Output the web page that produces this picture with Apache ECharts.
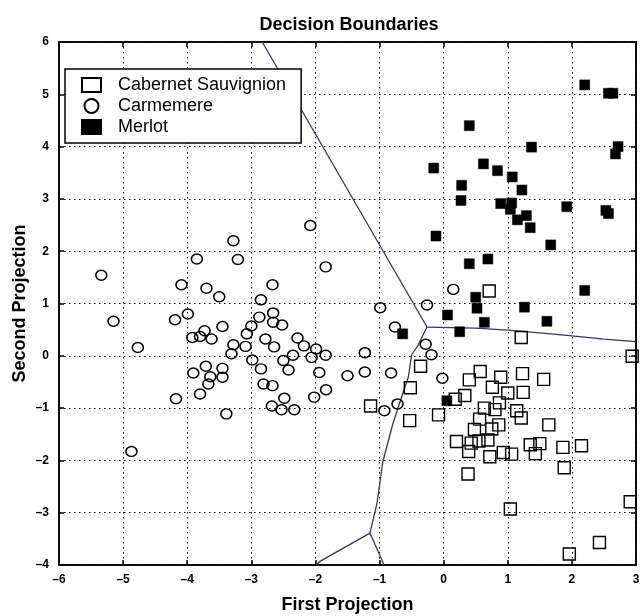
<!DOCTYPE html>
<html><head><meta charset="utf-8">
<script src="https://cdn.jsdelivr.net/npm/echarts@6/dist/echarts.min.js"></script>
<style>html,body{margin:0;padding:0;background:#fff}#c{width:641px;height:616px}</style>
</head><body><div id="c"></div>
<script>
const xRange = [-6, 3];
const yRange = [-4, 6];
const seriesNames = ['Cabernet Sauvignion', 'Carmemere', 'Merlot'];

const cabernet = [
[1.21,0.35],[2.94,-0.01],[-0.36,-0.20],[0.57,-0.30],[1.23,-0.34],[1.56,-0.45],[0.40,-0.46],[0.89,-0.41],
[0.76,-0.60],[-0.52,-0.61],[1.00,-0.71],[1.24,-0.70],[0.33,-0.76],[0.18,-0.83],[-0.08,-1.13],[-0.53,-1.24],
[0.635,-1.00],[0.80,-1.03],[0.87,-0.90],[1.14,-1.05],[1.21,-1.19],[0.56,-1.21],[0.75,-1.40],[0.86,-1.32],
[0.48,-1.41],[1.64,-1.32],[0.20,-1.64],[0.43,-1.67],[0.55,-1.63],[0.69,-1.61],[0.39,-1.83],[0.72,-1.93],
[0.93,-1.85],[1.06,-1.88],[1.35,-1.70],[1.50,-1.68],[1.43,-1.87],[1.86,-1.75],[2.15,-1.72],[1.88,-2.14],
[0.38,-2.26],[1.04,-2.93],[2.91,-2.79],[2.43,-3.57],[1.96,-3.79],[-1.14,-0.96],[0.71,1.24]
];

const carmemere = [
[-3.28,2.20],[-3.21,1.84],[-3.85,1.85],[-5.34,1.54],[-4.09,1.36],[-3.70,1.29],[-3.50,1.13],[-2.67,1.36],
[-2.85,1.07],[-5.15,0.66],[-4.19,0.69],[-3.99,0.80],[-3.45,0.56],[-2.875,0.74],[-2.66,0.82],[-2.66,0.64],
[-2.52,0.59],[-3.00,0.57],[-3.07,0.42],[-3.92,0.35],[-3.80,0.37],[-3.73,0.48],[-3.62,0.32],[-4.77,0.16],
[-3.28,0.21],[-3.31,0.04],[-3.09,0.18],[-2.78,0.32],[-2.645,0.17],[-2.28,0.34],[-2.35,0.01],[-2.50,-0.09],
[-2.42,-0.27],[-2.985,-0.08],[-2.85,-0.25],[-3.905,-0.33],[-3.71,-0.20],[-3.64,-0.40],[-3.67,-0.54],[-3.45,-0.24],
[-3.45,-0.41],[-3.80,-0.73],[-4.175,-0.82],[-2.81,-0.54],[-2.67,-0.57],[-2.485,-0.81],[-2.68,-0.96],[-2.53,-1.03],
[-2.33,-1.03],[-3.39,-1.11],[-4.87,-1.83],[-2.08,2.49],[-1.84,1.70],[-0.26,0.97],[-0.99,0.92],[-0.76,0.55],
[-2.18,0.19],[-1.99,0.13],[-2.06,-0.03],[-1.84,0.01],[-1.94,-0.32],[-1.50,-0.38],[-1.23,0.06],[-1.23,-0.31],
[-0.82,-0.33],[-1.835,-0.65],[-2.02,-0.79],[-0.28,0.22],[-0.19,0.02],[-0.02,-0.43],[-0.72,-0.92],[-0.925,-1.05],
[0.15,1.27]
];

const merlot = [
[2.20,5.18],[2.57,5.02],[2.64,5.02],[0.40,4.40],[1.37,3.99],[2.72,4.00],[2.68,3.86],[-0.155,3.59],
[0.62,3.67],[0.84,3.54],[1.07,3.42],[1.22,3.17],[0.28,3.26],[0.27,2.97],[0.89,2.91],[1.06,2.92],
[1.04,2.80],[1.92,2.85],[2.53,2.78],[2.57,2.72],[1.15,2.60],[1.29,2.68],[1.35,2.45],[-0.12,2.29],
[1.67,2.12],[0.69,1.85],[0.40,1.76],[2.20,1.25],[0.50,1.12],[0.52,0.91],[1.26,0.93],[0.06,0.78],
[0.635,0.64],[1.61,0.66],[0.25,0.46],[-0.64,0.42],[0.05,-0.86]
];

// decision boundary polylines
const boundaryUpper = [[-2.83,6],[-0.26,0.55]];
const boundaryRight = [[-0.26,0.55],[0.5,0.53],[1.0,0.49],[1.5,0.44],[2.0,0.38],[2.5,0.32],[3.0,0.27]];
const boundaryLower = [[-0.26,0.55],[-0.395,0.21],[-0.50,0.02],[-0.55,-0.40],[-0.68,-0.88],[-0.79,-1.29],[-0.95,-2.03],[-1.04,-2.82],[-1.15,-3.39]];
const boundaryBL = [[-1.15,-3.39],[-1.93,-3.93],[-1.99,-4]];
const boundaryBR = [[-1.15,-3.39],[-0.94,-3.97],[-0.93,-4]];

const FONT = 'Liberation Sans, Arial, sans-serif';
const minus = v => (v < 0 ? '\u2013' : '') + Math.abs(v);
const ellipse = 'path://M0,50A50,50 0 1,0 100,50A50,50 0 1,0 0,50Z';
const lineColor = '#34346e';

function boundary(data) {
  return {type:'line', data, showSymbol:false, symbol:'none', silent:true, z:1,
    lineStyle:{color:lineColor, width:1.3}, emphasis:{disabled:true}};
}

const chart = echarts.init(document.getElementById('c'), null, {renderer:'canvas'});
chart.setOption({
  animation:false,
  backgroundColor:'#fff',
  title:{text:'Decision Boundaries', left:344, top:11, textAlign:'center',
    textStyle:{fontFamily:FONT, fontSize:18, fontWeight:'bold', color:'#000'}},
  grid:{left:59, right:5, top:42, bottom:51, outerBoundsMode:'none', show:true, borderColor:'#000', borderWidth:1.5, backgroundColor:'transparent'},
  legend:{orient:'vertical', left:65, top:69, backgroundColor:'#fff', borderColor:'#000', borderWidth:1.5,
    padding:[7,15,7,16], itemGap:3, itemWidth:19, itemHeight:14,
    textStyle:{fontFamily:FONT, fontSize:18, color:'#000', padding:[0,0,0,12]},
    data:[{name:seriesNames[0], icon:'rect'},{name:seriesNames[1]},{name:seriesNames[2], icon:'rect'}],
    selectedMode:false},
  xAxis:[{type:'value', min:xRange[0], max:xRange[1], interval:1, position:'bottom',
      name:'First Projection', nameLocation:'middle', nameGap:31, nameMoveOverlap:false,
      nameTextStyle:{fontFamily:FONT, fontSize:18, fontWeight:'bold', color:'#000'},
      axisLine:{show:true, onZero:false, lineStyle:{color:'#000', width:1.5}},
      axisTick:{show:true, inside:true, length:5, lineStyle:{color:'#000', width:1.5}},
      axisLabel:{fontFamily:FONT, fontSize:12, fontWeight:'bold', color:'#000', margin:9, formatter:minus},
      splitLine:{show:true, lineStyle:{color:'#000', width:1, type:[1.5,3.5]}}},
    {type:'value', min:xRange[0], max:xRange[1], interval:1, position:'top',
      axisLine:{show:true, onZero:false, lineStyle:{color:'#000', width:1.5}},
      axisTick:{show:true, inside:true, length:5, lineStyle:{color:'#000', width:1.5}},
      axisLabel:{show:false}, splitLine:{show:false}}],
  yAxis:[{type:'value', min:yRange[0], max:yRange[1], interval:1, position:'left',
      name:'Second Projection', nameLocation:'middle', nameGap:30, nameMoveOverlap:false,
      nameTextStyle:{fontFamily:FONT, fontSize:18, fontWeight:'bold', color:'#000'},
      axisLine:{show:true, onZero:false, lineStyle:{color:'#000', width:1.5}},
      axisTick:{show:true, inside:true, length:5, lineStyle:{color:'#000', width:1.5}},
      axisLabel:{fontFamily:FONT, fontSize:12, fontWeight:'bold', color:'#000', margin:10, formatter:minus},
      splitLine:{show:true, lineStyle:{color:'#000', width:1, type:[1.5,3.5]}}},
    {type:'value', min:yRange[0], max:yRange[1], interval:1, position:'right',
      axisLine:{show:true, onZero:false, lineStyle:{color:'#000', width:1.5}},
      axisTick:{show:true, inside:true, length:5, lineStyle:{color:'#000', width:1.5}},
      axisLabel:{show:false}, splitLine:{show:false}}],
  series:[
    {name:seriesNames[0], type:'scatter', data:cabernet, symbol:'rect', symbolSize:12, z:3,
      itemStyle:{color:'rgba(255,255,255,0)', borderColor:'#000', borderWidth:1.4, opacity:1}, emphasis:{disabled:true}},
    {name:seriesNames[1], type:'scatter', data:carmemere, symbol:ellipse, symbolKeepAspect:false, symbolSize:[11,10], z:3,
      itemStyle:{color:'rgba(255,255,255,0)', borderColor:'#000', borderWidth:1.5, opacity:1}, emphasis:{disabled:true}},
    {name:seriesNames[2], type:'scatter', data:merlot, symbol:'rect', symbolSize:10, z:4,
      itemStyle:{color:'#000', borderColor:'#000', borderWidth:0.5, opacity:1}, emphasis:{disabled:true}},
    boundary(boundaryUpper), boundary(boundaryRight), boundary(boundaryLower), boundary(boundaryBL), boundary(boundaryBR)
  ]
});
</script></body></html>
